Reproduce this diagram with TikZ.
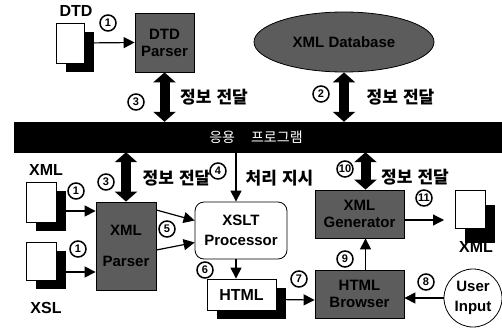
\documentclass[tikz,border=0pt]{standalone}
\usepackage{fontspec}
\setmainfont{Liberation Sans}
\newfontfamily\krfont{Noto Sans CJK KR}
\usepackage{xcolor}
\usetikzlibrary{arrows.meta,shapes.geometric,shadows}
\definecolor{speckle}{RGB}{92,92,92}
\newcommand{\info}{\krfont\bfseries 정보\hspace{5pt}전달}
\tikzset{
  docbox/.style ={draw=black,thick,fill=white,minimum width=28pt,minimum height=40pt,inner sep=0pt,drop shadow={shadow xshift=10pt,shadow yshift=-#1,fill=black,opacity=1}},
  docbox/.default=9pt,
  graybox/.style={draw=black,thick,fill=speckle,align=center,font=\bfseries\fontsize{15}{17}\selectfont,inner sep=0pt},
  softbox/.style={draw=black,thick,fill=white,align=center,font=\bfseries\fontsize{15}{20}\selectfont,inner sep=0pt},
  lbl/.style    ={font=\bfseries\fontsize{16}{18}\selectfont,inner sep=0pt},
  krlbl/.style  ={font=\fontsize{17}{19}\selectfont,inner sep=0pt},
  num/.style    ={circle,draw=black,line width=1.5pt,fill=white,font=\bfseries\fontsize{11}{11}\selectfont,inner sep=0pt,minimum size=16pt},
  ar/.style     ={-{Triangle[length=11pt,width=11pt]},draw=black,line width=1.2pt},
  dbl/.style    ={{Triangle[length=10pt,width=22pt]}-{Triangle[length=10pt,width=22pt]},draw=black,line width=10pt},
}
\begin{document}
\begin{tikzpicture}[x=1pt,y=-1pt]
\useasboundingbox (0,0) rectangle (502,329);
\node[draw=black,fill=black,text=white,minimum width=488pt,minimum height=30pt,inner sep=0pt,font=\krfont\fontsize{14}{16}\selectfont] (apps) at (258,137) {\hspace{-4pt}응용\hspace{16pt}프로그램};
\node[docbox] (dtddoc) at (70,43) {};
\node[lbl] (dtdlbl) at (76,11) {DTD};
\node[graybox,minimum width=59pt,minimum height=59pt] (dtdparser) at (164.5,42.5) {DTD\\Parser};
\node[ellipse,draw=black,thick,fill=speckle,minimum width=180pt,minimum height=60pt,inner sep=0pt,font=\bfseries\fontsize{15}{17}\selectfont] (store) at (344,42) {XML Database};
\node[docbox,minimum width=30pt] (xmldoc) at (41,202) {};
\node[lbl] (xmllbl) at (46,170) {XML};
\node[docbox,minimum width=30pt,minimum height=38pt] (xsldoc) at (41,261) {};
\node[lbl] (xsllbl) at (46,308) {XSL};
\node[graybox,minimum width=60pt,minimum height=88pt] (parser) at (126,246) {XML\\[14pt]Parser};
\node[softbox,rounded corners=9pt,minimum width=92pt,minimum height=57pt] (xslt) at (241,230.5) {XSLT\\Processor};
\node[docbox,minimum width=69pt,minimum height=31pt,font=\bfseries\fontsize{16}{18}\selectfont] (htmldoc) at (241.5,294.5) {HTML};
\node[graybox,minimum width=89pt,minimum height=48pt] (browser) at (359.5,294) {HTML\\Browser};
\node[graybox,minimum width=89pt,minimum height=48pt] (generator) at (359.5,214) {XML\\Generator};
\node[docbox=15pt,minimum width=30pt,minimum height=38pt] (outdoc) at (470,209) {};
\node[lbl] (outlbl) at (476,247) {XML};
\node[circle,draw=black,thick,fill=white,minimum size=58pt,inner sep=0pt,align=center,font=\bfseries\fontsize{15}{20}\selectfont] (user) at (473,298) {User\\Input};
\node[krlbl] (info1) at (214,97) {\info};
\node[krlbl] (info2) at (400.5,97) {\info};
\node[krlbl] (info3) at (176.5,178) {\info};
\node[krlbl] (info4) at (415,177) {\info};
\node[krlbl] (order) at (279.5,178) {\krfont\bfseries 처리\hspace{5pt}지시};
\coordinate (outtip) at (444,220);
\draw[ar] (dtddoc.east) -- (dtdparser.west);
\draw[dbl] (dtdparser.south) -- (dtdparser.south |- apps.north);
\draw[dbl] (store.south) -- (store.south |- apps.north);
\draw[dbl] (parser.north |- apps.south) -- (parser.north);
\draw[dbl] ([xshift=6pt]generator.north |- apps.south) -- ([xshift=6pt]generator.north);
\draw[ar] ([xshift=-5pt]xslt.north |- apps.south) -- ([xshift=-5pt]xslt.north);
\draw[ar] ([yshift=-9pt]xmldoc.east) -- ([yshift=-9pt]xmldoc.east -| parser.west);
\draw[ar] ([yshift=-11pt]xsldoc.east) -- ([yshift=-11pt]xsldoc.east -| parser.west);
\draw[ar] ([yshift=36pt]parser.east) -- ([yshift=10pt]xslt.west);
\draw[ar] ([yshift=-4pt]parser.east) -- ([yshift=-12pt]xslt.west);
\draw[ar] ([xshift=-5pt]xslt.south) -- ([xshift=-5pt]xslt.south |- htmldoc.north);
\draw[ar] ([yshift=-5pt]htmldoc.east) -- ([yshift=-6pt]browser.west);
\draw[ar] (user.west) -- (user.west -| browser.east);
\draw[ar] ([xshift=6pt]browser.north) -- ([xshift=6pt]generator.south);
\draw[ar] ([yshift=-6pt]generator.east) -- (outtip);
\node[num] (n1a) at (108,23) {1};
\node[num] (n1b) at (76,191) {1};
\node[num] (n1c) at (78,249) {1};
\node[num] (n2) at (321,94) {2};
\node[num] (n3a) at (136,102) {3};
\node[num] (n3b) at (106,182) {3};
\node[num] (n4) at (218,171) {4};
\node[num] (n5) at (167,229) {5};
\node[num] (n6) at (205,270) {6};
\node[num] (n7) at (299,279) {7};
\node[num] (n8) at (426,282) {8};
\node[num] (n9) at (345,259) {9};
\node[num] (n10) at (345,169) {10};
\node[num] (n11) at (424,198) {11};
\end{tikzpicture}
\end{document}
